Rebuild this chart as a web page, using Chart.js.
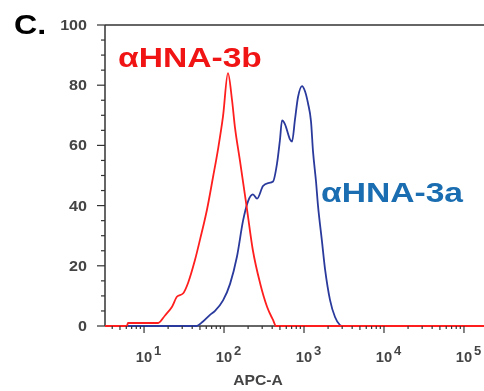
<!DOCTYPE html>
<html>
<head>
<meta charset="utf-8">
<script src="https://cdn.jsdelivr.net/npm/chart.js@4.4.1/dist/chart.umd.min.js"></script>
<style>
  html, body { margin: 0; padding: 0; background: #fff; }
  #wrap { width: 484px; height: 391px; }
</style>
</head>
<body>
<div id="wrap"><canvas id="histo"></canvas></div>
<script>
// AXES
const xMin = 3.25, xMax = 178000;
const yTickValues = [0, 20, 40, 60, 80, 100];
const xDecades = [10, 100, 1000, 10000, 100000];
const xExponents = ["1", "2", "3", "4", "5"];

// anti-HNA-3b (red)
const redX = [3.25, 6.1, 6.3, 15, 18.3, 22.4, 25.9, 30.7, 35.5, 43.4, 50.1, 61.3, 72.9, 84.1, 97.2, 112, 126, 137, 158, 194, 230, 282, 345, 410, 447, 178000];
const redY = [0, 0, 1, 1, 3.5, 6.4, 9.8, 10.8, 14.3, 22, 28.7, 38.7, 49.5, 58.7, 69.7, 84, 75, 66, 55, 38.7, 25, 14.3, 6.4, 2, 0, 0];

// anti-HNA-3a (blue)
const blueX = [3.25, 44.7, 54.6, 66.8, 77.2, 97.2, 119, 145, 173, 200, 230, 259, 307, 355, 410, 460, 501, 531, 579, 668, 708, 772, 841, 944, 1029, 1122, 1223, 1296, 1413, 1496, 1679, 1830, 2113, 2441, 2818, 3073, 178000];
const blueY = [0, 0, 1.5, 3.7, 5, 8.5, 14, 23, 35, 41.5, 43.7, 42.3, 46.5, 47.5, 48, 54, 62, 68.3, 67, 62, 61.3, 68.7, 76, 79.7, 78, 74, 68, 58, 48, 40, 28, 19, 8.7, 3, 0.3, 0, 0];

const toPoints = (xs, ys) => xs.map((v, i) => ({ x: v, y: ys[i] }));

const AXIS_COLOR = "#333";
const LABEL_COLOR = "#444";
const FONT = "'Liberation Sans', Arial, sans-serif";

// text drawn a bit wider, like the original figure
function wideText(ctx, text, x, y, font, color, sx, align) {
    ctx.save();
    ctx.font = font;
    ctx.fillStyle = color;
    ctx.textBaseline = "alphabetic";
    const w = ctx.measureText(text).width * sx;
    let left = x;
    if (align === "right") left = x - w;
    if (align === "center") left = x - w / 2;
    ctx.translate(left, y);
    ctx.scale(sx, 1);
    ctx.textAlign = "left";
    ctx.fillText(text, 0, 0);
    ctx.restore();
}

function line(ctx, x1, y1, x2, y2) {
    ctx.beginPath();
    ctx.moveTo(x1, y1);
    ctx.lineTo(x2, y2);
    ctx.stroke();
}

// axes under the curves
const axesPlugin = {
    id: "axesLines",
    beforeDatasetsDraw(chart) {
        const { ctx, chartArea: a } = chart;
        ctx.save();
        ctx.strokeStyle = AXIS_COLOR;
        ctx.lineWidth = 1.5;
        line(ctx, a.left, a.top, a.right, a.top);
        line(ctx, a.left, a.top, a.left, a.bottom);
        line(ctx, a.left, a.bottom, a.right, a.bottom);
        ctx.restore();
    }
};

// ticks, labels and annotations
const decorPlugin = {
    id: "decor",
    afterDraw(chart) {
        const { ctx, chartArea: a, scales: { x, y } } = chart;
        ctx.save();
        ctx.strokeStyle = AXIS_COLOR;
        ctx.lineWidth = 1.2;

        // y ticks every 5, labels every 20
        for (let v = 0; v <= 100; v += 5) {
            const py = y.getPixelForValue(v);
            const len = v % 20 === 0 ? 8 : 4;
            line(ctx, a.left - len, py, a.left, py);
        }
        yTickValues.forEach(v => {
            const py = y.getPixelForValue(v);
            wideText(ctx, String(v), 87, py + 5, "bold 14px " + FONT, LABEL_COLOR, 1.15, "right");
        });

        // x log ticks
        for (let e = 0; e <= 5; e++) {
            for (let m = 1; m <= 9; m++) {
                const v = m * Math.pow(10, e);
                if (v < x.min || v > x.max) continue;
                const px = x.getPixelForValue(v);
                const len = m === 1 ? 7 : (m === 5 ? 4 : 3);
                line(ctx, px, a.bottom, px, a.bottom + len);
            }
        }
        xDecades.forEach((v, i) => {
            const px = x.getPixelForValue(v);
            wideText(ctx, "10", px, 362, "bold 14px " + FONT, LABEL_COLOR, 1.05, "center");
            wideText(ctx, xExponents[i], px + 10, 355, "bold 13px " + FONT, LABEL_COLOR, 1.0, "left");
        });

        wideText(ctx, "APC-A", 258, 385, "bold 14px " + FONT, LABEL_COLOR, 1.12, "center");

        // panel letter and series labels
        wideText(ctx, "C.", 14, 34, "bold 28px " + FONT, "#000", 1.15, "left");
        wideText(ctx, "\u03B1HNA-3b", 118, 67, "bold 28px " + FONT, "#f01414", 1.2, "left");
        wideText(ctx, "\u03B1HNA-3a", 321, 202, "bold 28px " + FONT, "#1a6db0", 1.2, "left");

        ctx.restore();
    }
};

new Chart(document.getElementById("histo"), {
    type: "line",
    data: {
        datasets: [
            {
                label: "\u03B1HNA-3b",
                data: toPoints(redX, redY),
                borderColor: "#ff1e1e",
                borderWidth: 1.8,
                pointRadius: 0,
                cubicInterpolationMode: "monotone",
                clip: false
            },
            {
                label: "\u03B1HNA-3a",
                data: toPoints(blueX, blueY),
                borderColor: "#2a3a9c",
                borderWidth: 1.8,
                pointRadius: 0,
                cubicInterpolationMode: "monotone",
                clip: false
            }
        ]
    },
    options: {
        responsive: true,
        maintainAspectRatio: false,
        animation: false,
        layout: { padding: { top: 25, right: 0, left: 0, bottom: 0 } },
        plugins: { legend: { display: false }, tooltip: { enabled: false } },
        scales: {
            x: {
                type: "logarithmic",
                min: xMin,
                max: xMax,
                grid: { display: false },
                border: { display: false },
                ticks: { display: false },
                afterFit: s => { s.height = 65; }
            },
            y: {
                min: 0,
                max: 100,
                grid: { display: false },
                border: { display: false },
                ticks: { display: false },
                afterFit: s => { s.width = 105; }
            }
        }
    },
    plugins: [axesPlugin, decorPlugin]
});
</script>
</body>
</html>
